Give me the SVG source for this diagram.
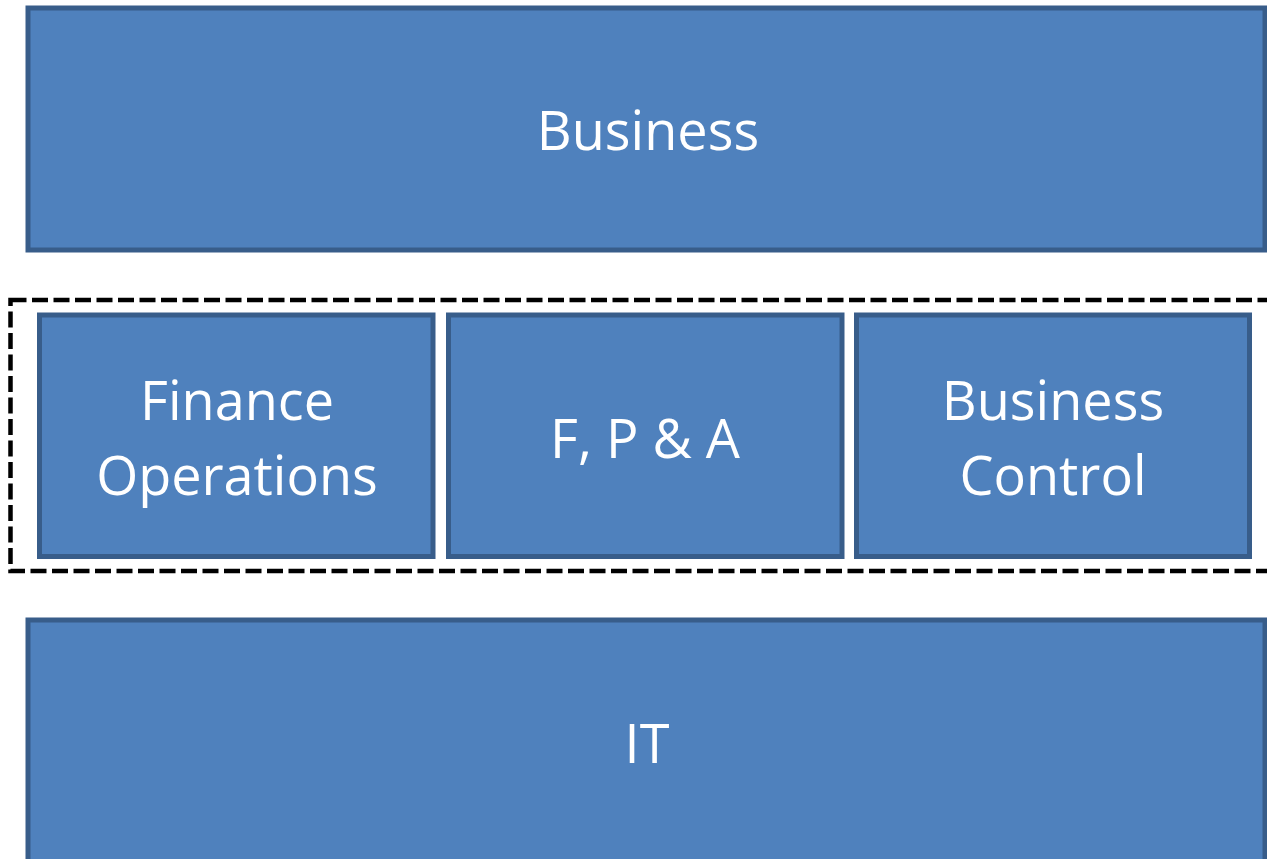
<svg xmlns="http://www.w3.org/2000/svg" width="1267" height="859" viewBox="0 0 1267 859">
<style>
.box{fill:#4F81BD;stroke:#385D8A;stroke-width:5}
.lbl{fill:#FFFFFF;font-family:"Open Sans","Noto Sans",sans-serif;font-size:54px;text-anchor:middle}
.grp{fill:none;stroke:#000000;stroke-width:4.5;stroke-dasharray:16 5.5}
</style>
<rect width="1267" height="859" fill="#FFFFFF"/>
<g id="connectors"/>
<g id="group-frame"><rect class="grp" x="10.5" y="300" width="1280" height="271"/></g>
<g id="business"><rect class="box" x="28" y="8" width="1237" height="242"/><text class="lbl" x="648" y="150">Business</text></g>
<g id="finance-operations"><rect class="box" x="39.5" y="315" width="393.5" height="241.5"/><text class="lbl" x="237" y="420">Finance</text><text class="lbl" x="237" y="495">Operations</text></g>
<g id="fpa"><rect class="box" x="448.5" y="315" width="393.5" height="241.5"/><text class="lbl" x="645" y="458">F, P &amp; A</text></g>
<g id="business-control"><rect class="box" x="856.5" y="315" width="393" height="241.5"/><text class="lbl" x="1053" y="420">Business</text><text class="lbl" x="1053" y="495">Control</text></g>
<g id="it"><rect class="box" x="28" y="620" width="1237" height="260"/><text class="lbl" x="647" y="763">IT</text></g>
</svg>
